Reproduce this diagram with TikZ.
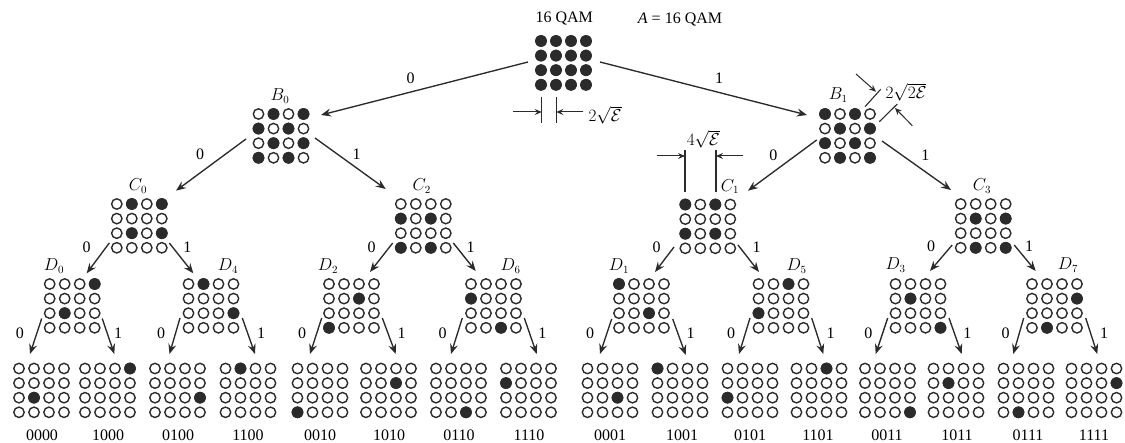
\documentclass[tikz,border=0pt]{standalone}
\usepackage{fontspec}
\setmainfont{Liberation Serif}
\usetikzlibrary{arrows.meta}

\definecolor{ink}{HTML}{2B2B2B}

\tikzset{
  gridbox/.style = {shape=rectangle, inner sep=0pt, minimum width=50pt, minimum height=50pt},
  hollowdot/.style = {draw=ink, line width=1.4pt, fill=white},
  fulldot/.style = {fill=ink},
  branch/.style = {draw=ink, line width=1.35pt, -{Stealth[length=10pt,width=8pt,inset=3.5pt]}},
  tick/.style = {draw=ink, line width=1.1pt},
  measure/.style = {draw=ink, line width=1pt, -{Stealth[length=7pt,width=6pt,inset=2.5pt]}},
  lab/.style = {inner sep=0pt, text=black, font=\fontsize{16}{19}\selectfont}
}

% one constellation: name, x, y, list of row/col of the filled points
\newcommand{\qamgrid}[4]{
  \node[gridbox] (#1) at (#2,#3) {};
  \foreach \row in {0,...,3}
    \foreach \col in {0,...,3}
      \path[hollowdot] ([shift={(15*\col-22.5,14.6*\row-22)}]#1.center) circle (5.2pt);
  \foreach \row/\col in {#4}
    \path[fulldot] ([shift={(15*\col-22.5,14.6*\row-22)}]#1.center) circle (5.9pt);
}

\begin{document}
\begin{tikzpicture}[x=1pt, y=-1pt]
  \useasboundingbox (0,0) rectangle (1125,443);

  % constellations
  \qamgrid{A}{563.5}{63}{0/0,0/1,0/2,0/3,1/0,1/1,1/2,1/3,2/0,2/1,2/2,2/3,3/0,3/1,3/2,3/3}
  \qamgrid{B0}{281}{136}{0/1,0/3,1/0,1/2,2/1,2/3,3/0,3/2}
  \qamgrid{B1}{847.5}{136}{0/0,0/2,1/1,1/3,2/0,2/2,3/1,3/3}
  \qamgrid{C0}{139.3}{226}{0/1,0/3,2/1,2/3}
  \qamgrid{C2}{423.3}{226}{1/0,1/2,3/0,3/2}
  \qamgrid{C1}{707.8}{226.5}{0/0,0/2,2/0,2/2}
  \qamgrid{C3}{983.2}{226}{1/1,1/3,3/1,3/3}
  \qamgrid{D0}{72.2}{306}{0/3,2/1}
  \qamgrid{D4}{211}{306}{0/1,2/3}
  \qamgrid{D2}{351.5}{306}{1/2,3/0}
  \qamgrid{D6}{493.5}{306}{1/0,3/2}
  \qamgrid{D1}{641.5}{306}{0/0,2/2}
  \qamgrid{D5}{781}{306}{0/2,2/0}
  \qamgrid{D3}{918}{306}{1/1,3/3}
  \qamgrid{D7}{1054.5}{306}{1/3,3/1}
  \foreach \bits/\gx/\tx/\fr/\fc in {0000/41.5/42/2/1, 1000/107.5/108/0/3, 0100/177.5/178/2/3, 1100/248/248/0/1,
      0010/320/320/3/0, 1010/388.5/389/1/2, 0110/458.5/459/3/2, 1110/528.5/529/1/0,
      0001/610/610/2/2, 1001/680/682/0/0, 0101/750/750/2/0, 1101/819/818/0/2,
      0011/887.5/887/3/3, 1011/956/957/1/1, 0111/1026/1028/3/1, 1111/1094/1094/1/3} {
    \qamgrid{L\bits}{\gx}{390.5}{\fr/\fc}
    \node[lab] (txt\bits) at (\tx,435) {\bits};
  }

  % branches with their bit
  \foreach \a/\b/\sx/\sy/\ex/\ey/\lx/\ly/\bit in {
      A/B0/-35.5/-1/40/-21/410.7/78/0, A/B1/36.5/-1/-40.5/-21/719/78/1,
      B0/C0/-35/3/36.7/-35.3/200/154/0, B0/C2/34/2/-37.6/-37/356.7/154/1,
      B1/C1/-30.8/4/40.2/-35.8/773.3/155/0, B1/C3/34.5/5/-32.2/-36/925.3/155/1,
      C0/D0/-30/17/14.5/-32.7/86.7/247/0, C0/D4/30/17/-17.7/-32.7/187.3/247/1,
      C2/D2/-30.6/17/18.5/-34/371.7/247/0, C2/D6/30/17/-17.8/-35/470.7/247/1,
      C1/D1/-33.8/20.5/13.5/-34/656.7/247/0, C1/D5/30.2/18.5/-22/-34/756.7/247/1,
      C3/D3/-31/19/12/-35/931/246/0, C3/D7/31/19/-18.8/-35/1029/246/1,
      D0/L0000/-30.5/12.5/-11.5/-36.5/20/333/0, D0/L1000/30/12.5/6.8/-36.5/118/333/1,
      D4/L0100/-31/12/-8/-36.5/161/333/0, D4/L1100/31.3/12/7/-36.5/261/333/1,
      D2/L0010/-29.8/12/-10/-36.5/302/333/0, D2/L1010/30.8/12/7.2/-36.5/401.7/333/1,
      D6/L0110/-31.2/12/-7.5/-36.5/442.7/333/0, D6/L1110/30.8/12/8.2/-36.5/542.3/333/1,
      D1/L0001/-29.8/13/-10/-36.5/590/333/0, D1/L1001/31.2/13/5.7/-35.5/690.7/333/1,
      D5/L0101/-31/12/-11/-36.5/731/333/0, D5/L1101/30.7/12/4.3/-36.5/830.7/333/1,
      D3/L0011/-30.3/12/-11.8/-36.5/868.3/333/0, D3/L1011/31/12/5.7/-36.5/967.3/333/1,
      D7/L0111/-30.8/12/-12.7/-36.5/1005.7/333/0, D7/L1111/31.2/12/3.3/-36.5/1104/333/1} {
    \draw[branch] ([shift={(\sx,\sy)}]\a.center) -- ([shift={(\ex,\ey)}]\b.center);
    \node[lab] (bit\b) at (\lx,\ly) {\bit};
  }

  % names of the subsets
  \node[lab] (nameA) at (564.3,19) {16 QAM};
  \node[lab] (eqA) at (680,20) {\textit{A} = 16 QAM};
  \node[lab] (nameB0) at (280,96) {\(B_0\)};
  \node[lab] (nameB1) at (838.3,95) {\(B_1\)};
  \node[lab] (nameC0) at (138,186) {\(C_0\)};
  \node[lab] (nameC2) at (421.7,186) {\(C_2\)};
  \node[lab] (nameC1) at (730,186.5) {\(C_1\)};
  \node[lab] (nameC3) at (982,186) {\(C_3\)};
  \node[lab] (nameD0) at (54,266) {\(D_0\)};
  \node[lab] (nameD4) at (228,266) {\(D_4\)};
  \node[lab] (nameD2) at (328,266) {\(D_2\)};
  \node[lab] (nameD6) at (510.7,266) {\(D_6\)};
  \node[lab] (nameD1) at (619,266) {\(D_1\)};
  \node[lab] (nameD5) at (796.7,266) {\(D_5\)};
  \node[lab] (nameD3) at (895.7,265) {\(D_3\)};
  \node[lab] (nameD7) at (1068,265) {\(D_7\)};

  % distances
  \coordinate (t1a) at (541.7,96.7);
  \coordinate (t1b) at (541.7,123);
  \coordinate (t2a) at (556.3,96.7);
  \coordinate (t2b) at (556.3,123);
  \coordinate (m1a) at (513.3,112);
  \coordinate (m1b) at (541.7,112);
  \coordinate (m2a) at (583.3,112);
  \coordinate (m2b) at (556.3,112);
  \draw[tick] (t1a) -- (t1b);
  \draw[tick] (t2a) -- (t2b);
  \draw[measure] (m1a) -- (m1b);
  \draw[measure] (m2a) -- (m2b);
  \node[lab] (dist1) at (605,115) {\(2\sqrt{\mathcal{E}}\)};

  \coordinate (t3a) at (685,150);
  \coordinate (t3b) at (685,191.7);
  \coordinate (t4a) at (716,150);
  \coordinate (t4b) at (716,191.7);
  \coordinate (m3a) at (657.3,156);
  \coordinate (m3b) at (685,156);
  \coordinate (m4a) at (743.3,156);
  \coordinate (m4b) at (716,156);
  \draw[tick] (t3a) -- (t3b);
  \draw[tick] (t4a) -- (t4b);
  \draw[measure] (m3a) -- (m3b);
  \draw[measure] (m4a) -- (m4b);
  \node[lab] (dist2) at (703.3,139) {\(4\sqrt{\mathcal{E}}\)};

  \coordinate (t5a) at (865,106.7);
  \coordinate (t5b) at (880.7,89.3);
  \coordinate (t6a) at (879.3,121.7);
  \coordinate (t6b) at (897.3,104);
  \coordinate (m5a) at (856,74);
  \coordinate (m5b) at (876,91.7);
  \coordinate (m6a) at (912.3,125.7);
  \coordinate (m6b) at (895,108);
  \draw[tick] (t5a) -- (t5b);
  \draw[tick] (t6a) -- (t6b);
  \draw[measure] (m5a) -- (m5b);
  \draw[measure] (m6a) -- (m6b);
  \node[lab] (dist3) at (906,92) {\(2\sqrt{2\mathcal{E}}\)};
\end{tikzpicture}
\end{document}
